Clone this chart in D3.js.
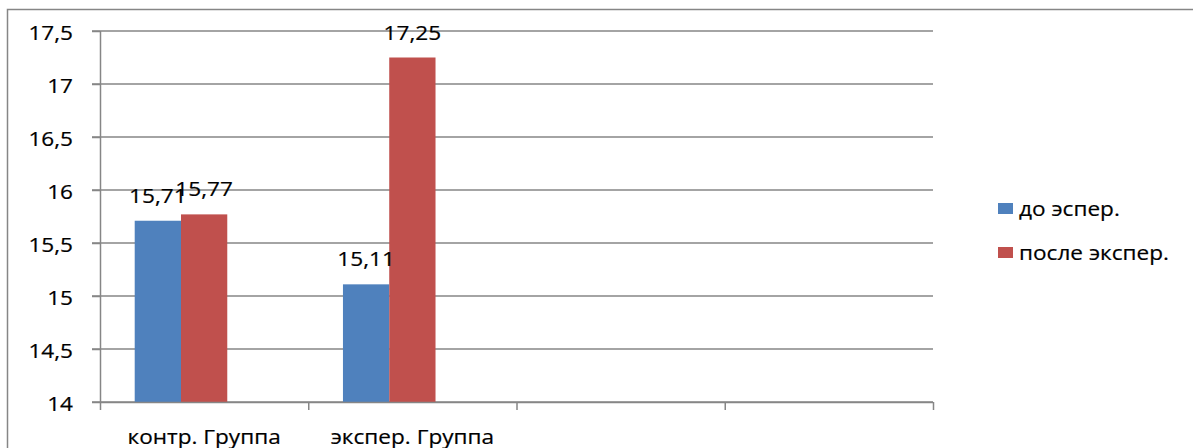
<!DOCTYPE html>
<html>
<head>
<meta charset="utf-8">
<script src="https://cdn.jsdelivr.net/npm/d3@7"></script>
<style>
  html, body { margin: 0; padding: 0; background: #fff; }
  svg { display: block; }
  text { font-family: "Open Sans", Lato, sans-serif; fill: #000; stroke: #000; stroke-width: 0.2; }
</style>
</head>
<body>
<svg id="chart" width="1193" height="448"></svg>
<script>
const categories = ["контр. Группа", "экспер. Группа", "", ""];
const seriesNames = ["до эспер.", "после экспер."];
const seriesColors = ["#4f81bd", "#c0504d"];
const before = [15.71, 15.11, null, null];
const after = [15.77, 17.25, null, null];
const seriesValues = [before, after];
const yTicks = [14, 14.5, 15, 15.5, 16, 16.5, 17, 17.5];

const W = 1193, H = 448;
const SX = 1.13;          // horizontal stretch of the original picture's text
const FS = 20;
const lineColor = "#868686";
const fmt = v => String(v).replace(".", ",");

const svg = d3.select("#chart");
const plot = { left: 100, right: 933, top: 31, bottom: 402 };

// outer border (top and left visible)
svg.append("rect")
  .attr("x", 7.5).attr("y", 9.5)
  .attr("width", W + 20).attr("height", H + 20)
  .attr("fill", "#fff").attr("stroke", lineColor).attr("stroke-width", 1.5);

const x = d3.scaleBand().domain(d3.range(categories.length)).range([plot.left, plot.right]);
const xEdge = d3.scaleLinear().domain([0, categories.length]).range([plot.left, plot.right]);
const y = d3.scaleLinear().domain([14, 17.5]).range([plot.bottom, plot.top]);
// Excel-like cluster: 3 slots, gap width 150%
const x1 = d3.scaleBand().domain(d3.range(3)).range([0, x.bandwidth()]).paddingInner(0).paddingOuter(0.75);

// gridlines
svg.append("g").selectAll("line").data(yTicks).join("line")
  .attr("x1", plot.left - 8).attr("x2", plot.right)
  .attr("y1", d => y(d)).attr("y2", d => y(d))
  .attr("stroke", lineColor).attr("stroke-width", 1.5);

// bars
seriesValues.forEach((vals, si) => {
  svg.append("g").selectAll("rect").data(vals.map((v, i) => ({ v, i })).filter(d => d.v != null)).join("rect")
    .attr("x", d => x(d.i) + x1(si))
    .attr("width", x1.bandwidth())
    .attr("y", d => y(d.v))
    .attr("height", d => y(14) - y(d.v))
    .attr("fill", seriesColors[si]);
});

// value labels
seriesValues.forEach((vals, si) => {
  svg.append("g").selectAll("text").data(vals.map((v, i) => ({ v, i })).filter(d => d.v != null)).join("text")
    .attr("text-anchor", "middle")
    .attr("font-size", FS)
    .attr("transform", d => `translate(${x(d.i) + x1(si) + x1.bandwidth() / 2},${y(d.v) - 18}) scale(${SX},1)`)
    .text(d => fmt(d.v));
});

// y axis
const yAxis = svg.append("g").attr("transform", `translate(${plot.left},0)`)
  .call(d3.axisLeft(y).tickValues(yTicks).tickSize(8).tickFormat(fmt));
yAxis.select(".domain").attr("stroke", lineColor).attr("stroke-width", 1.5)
  .attr("d", `M0.5,${plot.top}V${plot.bottom}`);
yAxis.selectAll(".tick line").attr("stroke", lineColor).attr("stroke-width", 1.5);
yAxis.selectAll(".tick text")
  .attr("x", null).attr("dy", null)
  .attr("font-size", FS).attr("font-family", "'Open Sans', Lato, sans-serif").attr("fill", "#000")
  .attr("text-anchor", "end")
  .attr("transform", `translate(-27,8) scale(${SX},1)`);

// x axis (tick marks at category boundaries)
const xAxis = svg.append("g").attr("transform", `translate(0,${plot.bottom})`)
  .call(d3.axisBottom(xEdge).tickValues(d3.range(categories.length + 1)).tickSize(8).tickFormat(""));
xAxis.select(".domain").attr("stroke", lineColor).attr("stroke-width", 1.5)
  .attr("d", `M${plot.left},0.5H${plot.right}`);
xAxis.selectAll(".tick line").attr("stroke", lineColor).attr("stroke-width", 1.5);

// category labels
svg.append("g").selectAll("text").data(categories.map((c, i) => ({ c, i })).filter(d => d.c)).join("text")
  .attr("text-anchor", "middle")
  .attr("font-size", FS)
  .attr("transform", d => `translate(${x(d.i) + x.bandwidth() / 2},444) scale(${SX},1)`)
  .text(d => d.c);

// legend
const legend = svg.append("g");
seriesNames.forEach((name, i) => {
  const ly = 203 + i * 44;
  legend.append("rect").attr("x", 998).attr("y", ly).attr("width", 15).attr("height", 11)
    .attr("fill", seriesColors[i]);
  legend.append("text").attr("font-size", FS)
    .attr("transform", `translate(1019,${ly + 13}) scale(${SX},1)`)
    .text(name);
});
</script>
</body>
</html>
